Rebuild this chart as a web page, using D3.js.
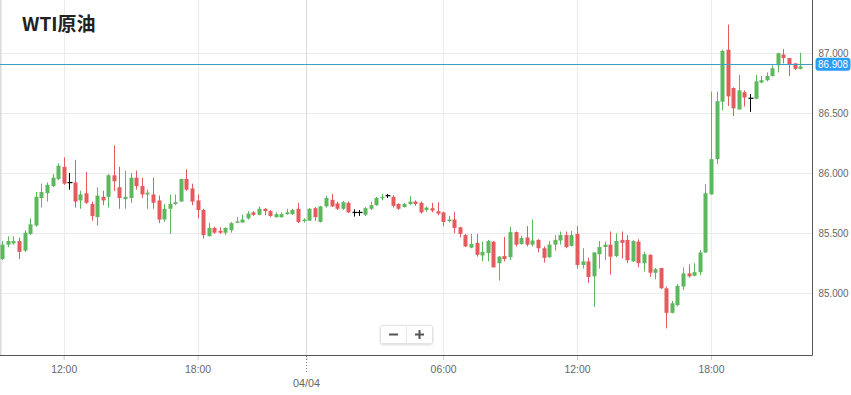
<!DOCTYPE html>
<html>
    <head>
        <meta charset="UTF-8">
        <title>WTI原油</title>
        <script src="https://cdn.jsdelivr.net/npm/d3@7"></script>
        <style>
            body { margin: 0; background: #fff; }
            .lbl { font-family: "Liberation Sans", Arial, sans-serif; font-size: 11px; fill: #666; }
        </style>
    </head>
    <body>
        <script>
            // 15 minute candles (index 0 = first candle on the left)
            var opens = [85.28,85.40,85.41,85.43,85.35,85.49,85.56,85.79,85.83,85.89,85.95,86.05,85.92,85.92,85.77,85.83,85.74,85.63,85.80,85.80,
                85.98,85.88,85.78,85.79,85.96,85.89,85.82,85.82,85.77,85.61,85.70,85.74,85.76,85.95,85.87,85.77,85.69,85.47,85.54,85.515,
                85.50,85.52,85.585,85.585,85.62,85.67,85.65,85.70,85.68,85.63,85.63,85.655,85.655,85.70,85.60,85.60,85.705,85.59,85.72,85.775,
                85.745,85.70,85.75,85.67,85.67,85.65,85.70,85.73,85.79,85.81,85.80,85.74,85.715,85.74,85.76,85.75,85.69,85.705,85.68,85.67,
                85.60,85.61,85.545,85.48,85.375,85.415,85.31,85.33,85.425,85.245,85.305,85.295,85.505,85.405,85.46,85.40,85.44,85.37,85.295,85.40,
                85.435,85.48,85.39,85.49,85.23,85.26,85.135,85.32,85.38,85.40,85.305,85.44,85.44,85.26,85.425,85.245,85.315,85.165,85.205,85.035,
                84.83,84.895,85.05,85.16,85.14,85.17,85.335,85.82,86.115,86.595,87.03,86.71,86.53,86.675,86.625,86.62,86.755,86.775,86.81,86.90,
                86.99,86.96,86.915,86.87];
            var highs = [85.43,85.47,85.47,85.46,85.52,85.62,85.84,85.91,85.92,85.99,86.08,86.13,86.00,86.11,85.85,86.01,85.76,85.88,85.85,85.99,
                86.23,86.05,86.02,86.00,86.02,85.96,85.86,85.96,85.81,85.74,85.82,85.82,85.95,86.03,85.91,85.82,85.70,85.58,85.55,85.545,
                85.545,85.59,85.63,85.65,85.68,85.68,85.72,85.705,85.69,85.67,85.67,85.70,85.70,85.75,85.62,85.705,85.715,85.725,85.81,85.825,
                85.76,85.765,85.76,85.695,85.69,85.715,85.76,85.80,85.825,85.825,85.815,85.745,85.75,85.805,85.77,85.76,85.72,85.75,85.755,85.675,
                85.64,85.675,85.55,85.49,85.49,85.49,85.425,85.44,85.43,85.305,85.465,85.55,85.51,85.475,85.555,85.61,85.445,85.385,85.43,85.48,
                85.51,85.51,85.515,85.555,85.37,85.29,85.335,85.43,85.425,85.51,85.495,85.51,85.48,85.44,85.445,85.34,85.32,85.205,85.205,85.05,
                84.93,85.07,85.21,85.235,85.245,85.355,85.905,86.68,86.68,87.03,87.24,86.715,86.82,86.69,86.66,86.82,86.81,86.84,86.90,87.005,
                87.035,86.96,86.92,87.005];
            var lows = [85.27,85.38,85.40,85.28,85.34,85.48,85.55,85.71,85.76,85.88,85.94,85.90,85.86,85.71,85.70,85.74,85.60,85.56,85.73,85.71,
                85.85,85.70,85.70,85.75,85.86,85.79,85.70,85.70,85.58,85.59,85.49,85.73,85.76,85.85,85.73,85.62,85.45,85.47,85.49,85.49,
                85.48,85.50,85.585,85.585,85.61,85.64,85.645,85.645,85.63,85.625,85.625,85.65,85.65,85.58,85.585,85.60,85.60,85.585,85.71,85.715,
                85.69,85.69,85.665,85.635,85.64,85.64,85.69,85.725,85.77,85.79,85.71,85.69,85.71,85.73,85.725,85.66,85.675,85.67,85.645,85.555,
                85.585,85.495,85.46,85.38,85.37,85.30,85.26,85.26,85.21,85.10,85.26,85.27,85.385,85.40,85.385,85.385,85.335,85.25,85.29,85.35,
                85.40,85.37,85.385,85.20,85.20,85.08,84.88,85.20,85.27,85.15,85.295,85.285,85.245,85.255,85.21,85.175,85.13,85.11,85.03,84.70,
                84.825,84.885,85.02,85.125,85.135,85.145,85.33,85.82,86.075,86.525,86.56,86.475,86.53,86.555,86.51,86.615,86.75,86.765,86.805,86.84,
                86.915,86.81,86.86,86.865];
            var closes = [85.40,85.43,85.43,85.34,85.50,85.57,85.80,85.84,85.90,85.96,86.06,85.91,85.92,85.76,85.82,85.75,85.64,85.81,85.77,85.98,
                85.93,85.79,85.80,85.96,85.89,85.82,85.835,85.75,85.61,85.70,85.74,85.755,85.95,85.86,85.76,85.69,85.48,85.54,85.50,85.50,
                85.54,85.58,85.595,85.61,85.66,85.65,85.70,85.68,85.64,85.655,85.655,85.67,85.69,85.59,85.61,85.70,85.63,85.72,85.79,85.72,
                85.70,85.755,85.67,85.67,85.67,85.705,85.73,85.79,85.80,85.81,85.725,85.70,85.74,85.76,85.74,85.67,85.71,85.685,85.66,85.59,
                85.61,85.54,85.49,85.385,85.405,85.315,85.34,85.43,85.21,85.30,85.28,85.505,85.40,85.455,85.40,85.435,85.37,85.29,85.40,85.44,
                85.48,85.38,85.48,85.23,85.26,85.13,85.335,85.38,85.40,85.30,85.43,85.415,85.27,85.43,85.245,85.32,85.165,85.195,85.035,84.83,
                84.91,85.055,85.16,85.135,85.17,85.335,85.83,86.115,86.60,87.02,86.64,86.54,86.69,86.63,86.625,86.765,86.775,86.81,86.875,87.00,
                86.96,86.91,86.87,86.89];

            var lastPrice = 86.908;
            var priceTicks = [85, 85.5, 86, 86.5, 87];
            // time ticks sit on candle indexes (the overnight break is not drawn)
            var timeTickIdx = [11, 35, 54.5, 79, 103, 127];
            var timeTickLabels = ["12:00", "18:00", "", "06:00", "12:00", "18:00"];
            var dayIdx = 54.5;
            var dayLabel = "04/04";

            var width = 851, height = 395;
            var plotRight = 812.5, plotBottom = 355;

            var candles = opens.map(function (o, i) {
                return {i: i, o: o, h: highs[i], l: lows[i], c: closes[i]};
            });

            var x = d3.scaleLinear().domain([0, candles.length - 1]).range([2.3, 800.2]);
            var y = d3.scaleLinear().domain([85, 87]).range([292.5, 53.3]);

            var svg = d3.select("body").append("svg")
                    .attr("width", width)
                    .attr("height", height);

            // drop shadow for the zoom buttons
            var f = svg.append("defs").append("filter").attr("id", "shadow")
                    .attr("x", "-20%").attr("y", "-20%").attr("width", "140%").attr("height", "160%");
            f.append("feDropShadow").attr("dx", 0).attr("dy", 1).attr("stdDeviation", 1)
                    .attr("flood-color", "#000").attr("flood-opacity", 0.15);

            // horizontal grid
            svg.append("g").selectAll("line")
                    .data(priceTicks)
                    .enter().append("line")
                    .attr("x1", 0).attr("x2", plotRight)
                    .attr("y1", function (d) { return Math.round(y(d)) + 0.5; })
                    .attr("y2", function (d) { return Math.round(y(d)) + 0.5; })
                    .attr("stroke", "#ececec");

            // vertical grid
            svg.append("g").selectAll("line")
                    .data(timeTickIdx)
                    .enter().append("line")
                    .attr("x1", function (d) { return Math.round(x(d)) + 0.5; })
                    .attr("x2", function (d) { return Math.round(x(d)) + 0.5; })
                    .attr("y1", 0).attr("y2", plotBottom)
                    .attr("stroke", function (d) { return d === dayIdx ? "#dcdcdc" : "#ececec"; });

            // left border
            svg.append("line")
                    .attr("x1", 0.75).attr("x2", 0.75).attr("y1", 0).attr("y2", plotBottom)
                    .attr("stroke", "#dadada").attr("stroke-width", 1.5);

            // title
            svg.append("text")
                    .attr("x", 22).attr("y", 31)
                    .attr("font-family", "'Noto Sans CJK SC', 'Noto Sans', sans-serif")
                    .attr("font-weight", "bold")
                    .attr("font-size", 19)
                    .attr("fill", "#222")
                    .text("WTI原油");

            function colour(d) {
                if (d.c > d.o) return "#5cb85c";
                if (d.c < d.o) return "#e55b5d";
                return "#000";
            }

            // wicks
            svg.append("g").selectAll("line")
                    .data(candles)
                    .enter().append("line")
                    .attr("x1", function (d) { return Math.round(x(d.i)) + 0.5; })
                    .attr("x2", function (d) { return Math.round(x(d.i)) + 0.5; })
                    .attr("y1", function (d) { return y(d.h); })
                    .attr("y2", function (d) { return y(d.l); })
                    .attr("stroke", colour)
                    .attr("stroke-width", 1);

            // bodies (dojis get a thin black bar)
            svg.append("g").selectAll("rect")
                    .data(candles)
                    .enter().append("rect")
                    .attr("x", function (d) { return Math.round(x(d.i)) - 1.5; })
                    .attr("width", function (d) { return d.c === d.o ? 5 : 4; })
                    .attr("y", function (d) { return d.c === d.o ? y(d.o) - 0.5 : y(Math.max(d.o, d.c)); })
                    .attr("height", function (d) { return d.c === d.o ? 1.2 : Math.max(1.5, Math.abs(y(d.o) - y(d.c))); })
                    .attr("fill", colour);

            // last price line
            svg.append("line")
                    .attr("x1", 0).attr("x2", plotRight)
                    .attr("y1", Math.round(y(lastPrice)) + 0.5).attr("y2", Math.round(y(lastPrice)) + 0.5)
                    .attr("stroke", "#3f9fc0").attr("stroke-width", 1);

            // right axis (labels squeezed to look like the narrow face in the original)
            var yAxis = svg.append("g")
                    .attr("transform", "translate(" + plotRight + ",0)")
                    .call(d3.axisRight(y).tickValues(priceTicks).tickFormat(d3.format(".3f")).tickSize(0).tickPadding(6));
            yAxis.select(".domain").remove();
            yAxis.selectAll("text").attr("class", "lbl").attr("font-family", null).attr("font-size", null)
                    .attr("textLength", 30).attr("lengthAdjust", "spacingAndGlyphs");
            svg.append("line")
                    .attr("x1", plotRight).attr("x2", plotRight).attr("y1", 0).attr("y2", plotBottom + 0.5)
                    .attr("stroke", "#555");

            // bottom axis
            var xAxis = svg.append("g")
                    .attr("transform", "translate(0," + plotBottom + ")")
                    .call(d3.axisBottom(x).tickValues(timeTickIdx)
                            .tickFormat(function (d, i) { return timeTickLabels[i]; })
                            .tickSize(5).tickSizeOuter(0).tickPadding(5));
            xAxis.select(".domain").remove();
            xAxis.selectAll(".tick line").attr("stroke", "#ccc");
            xAxis.selectAll("text").attr("class", "lbl").attr("font-family", null).attr("font-size", null)
                    .filter(function (d, i) { return timeTickLabels[i] !== ""; })
                    .attr("textLength", 26).attr("lengthAdjust", "spacingAndGlyphs");
            svg.append("line")
                    .attr("x1", 0).attr("x2", plotRight).attr("y1", plotBottom + 0.5).attr("y2", plotBottom + 0.5)
                    .attr("stroke", "#555").attr("stroke-width", 1.2);

            // day marker: dotted tick and date
            svg.append("line")
                    .attr("x1", Math.round(x(dayIdx)) + 0.5).attr("x2", Math.round(x(dayIdx)) + 0.5)
                    .attr("y1", plotBottom + 1).attr("y2", plotBottom + 18)
                    .attr("stroke", "#777").attr("stroke-dasharray", "1,2");
            svg.append("text")
                    .attr("class", "lbl")
                    .attr("x", x(dayIdx)).attr("y", 387)
                    .attr("text-anchor", "middle")
                    .attr("textLength", 27).attr("lengthAdjust", "spacingAndGlyphs")
                    .text(dayLabel);

            // last price tag
            var tag = svg.append("g").attr("transform", "translate(0," + y(lastPrice) + ")");
            tag.append("rect")
                    .attr("x", 815.5).attr("y", -6.5).attr("width", 35).attr("height", 13).attr("rx", 3)
                    .attr("fill", "#2a9df4");
            tag.append("text")
                    .attr("class", "lbl")
                    .attr("x", 833).attr("y", 4)
                    .attr("text-anchor", "middle")
                    .attr("textLength", 30).attr("lengthAdjust", "spacingAndGlyphs")
                    .style("fill", "#fff")
                    .text(d3.format(".3f")(lastPrice));

            // zoom buttons
            var btn = svg.append("g").attr("transform", "translate(380.5,325.5)");
            btn.append("rect")
                    .attr("width", 52).attr("height", 18).attr("rx", 2)
                    .attr("fill", "#fff").attr("stroke", "#e2e2e2")
                    .attr("filter", "url(#shadow)");
            btn.append("line")
                    .attr("x1", 26).attr("x2", 26).attr("y1", 1).attr("y2", 17)
                    .attr("stroke", "#e6e6e6");
            btn.append("rect").attr("x", 8.5).attr("y", 8).attr("width", 9).attr("height", 2).attr("fill", "#555");
            btn.append("rect").attr("x", 34.5).attr("y", 8).attr("width", 9).attr("height", 2).attr("fill", "#555");
            btn.append("rect").attr("x", 38).attr("y", 4.5).attr("width", 2).attr("height", 9).attr("fill", "#555");
        </script>
    </body>
</html>
